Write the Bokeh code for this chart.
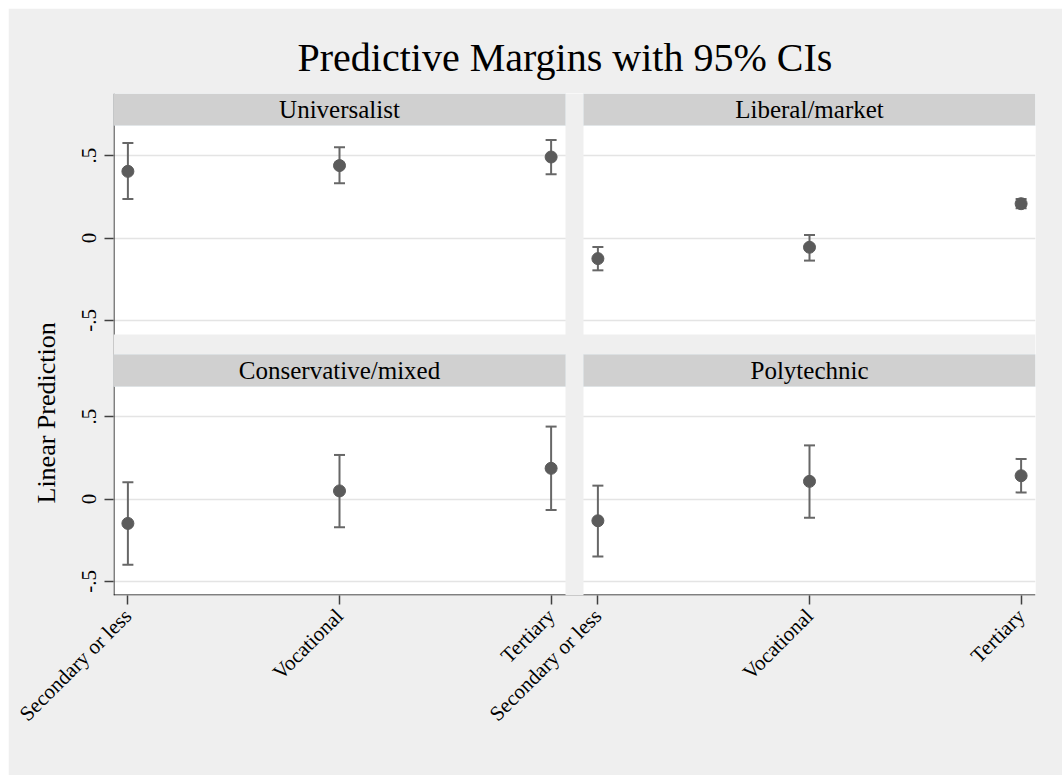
import math
from bokeh.plotting import figure
from bokeh.models import (Range1d, FixedTicker, Whisker, TeeHead, ColumnDataSource,
                          BoxAnnotation, Label, Span, Title)
from bokeh.embed import file_html
from bokeh.resources import INLINE

# ---------------- data ----------------
categories = ["Secondary or less", "Vocational", "Tertiary"]
panel_names = ["Universalist", "Liberal/market", "Conservative/mixed", "Polytechnic"]

universalist_est = [0.404, 0.439, 0.491]
universalist_lo = [0.236, 0.332, 0.386]
universalist_hi = [0.576, 0.550, 0.594]

liberal_est = [-0.125, -0.056, 0.208]
liberal_lo = [-0.196, -0.137, 0.180]
liberal_hi = [-0.054, 0.018, 0.236]

conservative_est = [-0.148, 0.049, 0.186]
conservative_lo = [-0.399, -0.172, -0.067]
conservative_hi = [0.101, 0.267, 0.439]

polytechnic_est = [-0.132, 0.107, 0.141]
polytechnic_lo = [-0.348, -0.113, 0.040]
polytechnic_hi = [0.081, 0.325, 0.243]

y_ticks = [-0.5, 0, 0.5]
y_tick_labels = ["-.5", "0", ".5"]
title_text = "Predictive Margins with 95% CIs"
y_title = "Linear Prediction"

# ---------------- style / layout ----------------
BG = "#efefef"
HEAD = "#d0d0d0"
HEAD_LINE = "#d6e4ea"
MARK = "#5b5b5b"
LINE = "#676767"
GRID = "#e4e4e4"
FONT = "Liberation Serif"

PANEL_W = 452
COL_GAP = 18
PLOT_H = 209
HEAD_H = 32
ROW_GAP = 20
FRAME_W = 2 * PANEL_W + COL_GAP
FRAME_H = 2 * (PLOT_H + HEAD_H) + ROW_GAP
BORDER_L = 105
BORDER_T = 85
BORDER_R = 1054 - BORDER_L - FRAME_W
BORDER_B = 767 - BORDER_T - FRAME_H

Y_LO, Y_TOP = -0.585, 0.682
PPU = PLOT_H / (Y_TOP - Y_LO)
Y_HI = Y_TOP + HEAD_H / PPU
Y_OFF = (PLOT_H + ROW_GAP + HEAD_H) / PPU
X_PAD = 0.068
n = len(categories)
PX = PANEL_W / (n - 1 + 2 * X_PAD)
X_OFF = (n - 1) + 2 * X_PAD + COL_GAP / PX
X_START = 1 - X_PAD
X_END = n + X_PAD + X_OFF
Y_START = Y_LO - Y_OFF

xs = list(range(1, n + 1))

p = figure(
    frame_width=FRAME_W, frame_height=FRAME_H,
    min_border_left=BORDER_L, min_border_right=BORDER_R,
    min_border_top=BORDER_T, min_border_bottom=BORDER_B,
    x_range=Range1d(X_START, X_END), y_range=Range1d(Y_START, Y_HI),
    toolbar_location=None, output_backend="svg",
    background_fill_color="white", border_fill_color=BG, outline_line_color=None,
    title=title_text, margin=(8, 0, 0, 8),
)
p.title.text_font = FONT
p.title.text_font_size = "40px"
p.title.text_font_style = "normal"
p.title.text_color = "black"
p.title.align = "left"
p.title.offset = 184
p.title.standoff = 28

p.add_layout(Title(text=y_title, align="left", offset=92, standoff=38,
                   text_font=FONT, text_font_size="26px", text_font_style="normal",
                   text_color="black"), "left")

# axes
x_tick_pos = xs + [x + X_OFF for x in xs]
p.xaxis.ticker = FixedTicker(ticks=x_tick_pos)
p.xaxis.major_label_overrides = dict(zip(x_tick_pos, categories + categories))
p.xaxis.major_label_orientation = math.pi / 4

y_tick_pos = [t - Y_OFF for t in y_ticks] + list(y_ticks)
p.yaxis.ticker = FixedTicker(ticks=y_tick_pos)
p.yaxis.major_label_overrides = dict(zip(y_tick_pos, y_tick_labels + y_tick_labels))
p.yaxis.major_label_orientation = "vertical"

for ax in (p.xaxis[0], p.yaxis[0]):
    ax.axis_line_color = None
    ax.major_tick_line_color = "#404040"
    ax.major_tick_line_width = 1.5
    ax.major_tick_out = 9
    ax.major_tick_in = 0
    ax.minor_tick_line_color = None
    ax.major_label_text_font = FONT
    ax.major_label_text_font_size = "21px"
    ax.major_label_text_color = "black"
p.yaxis.major_label_standoff = 8
p.xaxis.major_label_standoff = 8

p.xgrid.visible = False
p.ygrid.ticker = FixedTicker(ticks=y_tick_pos)
p.ygrid.grid_line_color = GRID
p.ygrid.grid_line_width = 1.5

# axis lines along the frame edges (inside the frame so the gaps can hide them)
p.add_layout(Span(location=X_START + 0.5 / PX, dimension="height",
                  line_color="black", line_width=1))
p.add_layout(Span(location=Y_START + 0.5 / PPU, dimension="width",
                  line_color="black", line_width=1))

# gray gaps between panels
p.add_layout(BoxAnnotation(left=n + X_PAD, right=1 - X_PAD + X_OFF,
                           top=Y_HI, bottom=Y_START,
                           fill_color=BG, fill_alpha=1, line_color=None))
p.add_layout(BoxAnnotation(left=X_START, right=X_END,
                           top=Y_LO, bottom=Y_TOP - Y_OFF,
                           fill_color=BG, fill_alpha=1, line_color=None))

panels = [
    (panel_names[0], universalist_est, universalist_lo, universalist_hi, 0, 0),
    (panel_names[1], liberal_est, liberal_lo, liberal_hi, 1, 0),
    (panel_names[2], conservative_est, conservative_lo, conservative_hi, 0, 1),
    (panel_names[3], polytechnic_est, polytechnic_lo, polytechnic_hi, 1, 1),
]

for name, est, lo, hi, c, r in panels:
    dx = c * X_OFF
    dy = r * Y_OFF
    src = ColumnDataSource(dict(
        x=[x + dx for x in xs],
        est=[v - dy for v in est],
        lo=[v - dy for v in lo],
        hi=[v - dy for v in hi],
    ))
    p.add_layout(Whisker(
        base="x", upper="hi", lower="lo", source=src, dimension="height",
        line_color=LINE, line_width=2,
        upper_head=TeeHead(size=11, line_color=LINE, line_width=2),
        lower_head=TeeHead(size=11, line_color=LINE, line_width=2),
    ))
    p.scatter("x", "est", source=src, size=12, fill_color=MARK, line_color=MARK)

    p.add_layout(BoxAnnotation(left=1 - X_PAD + dx, right=n + X_PAD + dx,
                               bottom=Y_TOP - dy, top=Y_HI - dy,
                               fill_color=HEAD, fill_alpha=1,
                               line_color=HEAD_LINE, line_width=1))
    p.add_layout(Label(x=(1 + n) / 2 + dx, y=(Y_TOP + Y_HI) / 2 - dy, text=name,
                       text_align="center", text_baseline="middle",
                       text_font=FONT, text_font_size="25px", text_color="black"))

open("out.html", "w").write(file_html(p, INLINE))
